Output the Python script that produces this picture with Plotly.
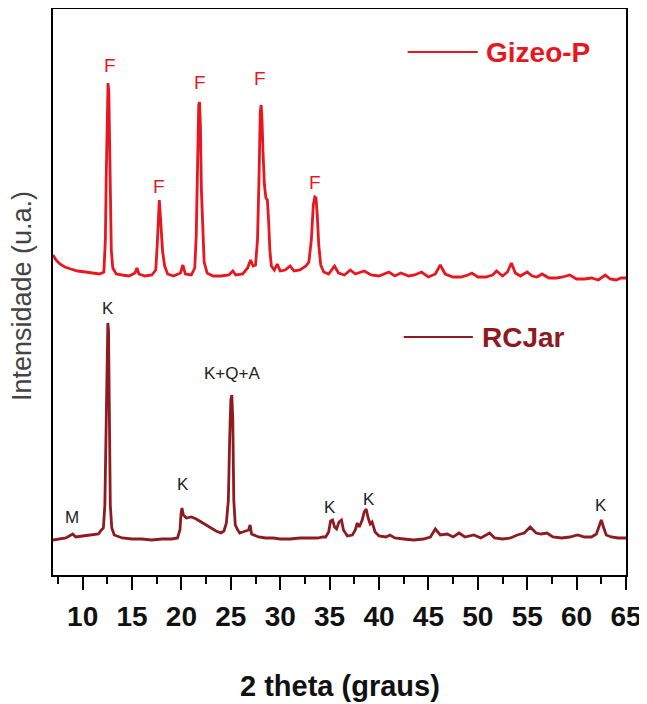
import plotly.graph_objects as go

# ---- data; intensity in arbitrary units ----
gizeo_x = [7.0, 7.3, 7.7, 8.2, 8.8, 9.5, 10.3, 11.0, 11.7, 12.15, 12.3, 12.4, 12.5, 12.57, 12.65, 12.72, 12.8, 12.9,
           13.05, 13.4, 14.0, 14.7, 15.3, 15.5, 15.7, 16.3, 17.0, 17.4, 17.55, 17.68, 17.76, 17.84, 17.95, 18.1,
           18.3, 18.6, 19.2, 19.9, 20.15, 20.4, 21.0, 21.35, 21.5, 21.63, 21.75, 21.83, 21.92, 22.02, 22.15, 22.3,
           22.6, 23.2, 24.0, 24.8, 25.2, 25.5, 26.2, 26.7, 27.0, 27.25, 27.5, 27.7, 27.85, 27.98, 28.07, 28.15,
           28.25, 28.4, 28.55, 28.7, 28.82, 28.95, 29.1, 29.4, 29.7, 30.0, 30.5, 31.0, 31.4, 32.0, 32.6, 32.9,
           33.15, 33.35, 33.5, 33.62, 33.75, 33.9, 34.1, 34.4, 34.9, 35.5, 35.9, 36.5, 37.1, 37.6, 38.5, 39.2,
           40.0, 41.0, 41.6, 42.2, 43.0, 43.6, 44.3, 45.0, 45.7, 46.2, 46.7, 47.5, 48.3, 49.0, 49.4, 50.0, 50.8,
           51.5, 51.9, 52.5, 53.0, 53.4, 53.8, 54.3, 55.0, 55.5, 56.0, 56.5, 57.2, 58.0, 58.6, 59.3, 60.0, 60.8,
           61.5, 62.2, 62.9, 63.4, 64.0, 64.5, 65.0]
gizeo_py = [255, 260, 264, 267, 269, 271, 272, 273, 274, 272, 240, 170, 100, 83, 92, 140, 200, 250,
            268, 274, 275, 276, 273, 268, 274, 276, 275, 270, 245, 210, 200, 212, 235, 252,
            266, 274, 276, 273, 265, 274, 275, 268, 235, 160, 105, 102, 125, 190, 235, 262,
            273, 276, 276, 275, 271, 275, 274, 268, 260, 266, 265, 240, 180, 112, 105, 118,
            150, 185, 198, 200, 220, 250, 266, 270, 264, 271, 270, 266, 271, 270, 266, 262,
            240, 205, 197, 198, 215, 245, 265, 272, 274, 266, 273, 275, 270, 274, 271, 275,
            276, 272, 276, 273, 276, 275, 272, 277, 274, 265, 274, 277, 277, 275, 273, 277, 277,
            275, 271, 276, 272, 263, 273, 276, 272, 276, 277, 274, 278, 278, 277, 275, 279, 279,
            278, 280, 275, 279, 280, 278, 278]
gizeo_y = [575 - v for v in gizeo_py]

rcjar_x = [7.0, 7.5, 8.3, 9.0, 9.3, 10.0, 11.0, 11.6, 11.9, 12.1, 12.25, 12.35, 12.45, 12.55, 12.62, 12.7, 12.8,
           12.95, 13.2, 14.0, 15.0, 16.0, 17.0, 18.0, 19.0, 19.6, 19.85, 19.95, 20.05, 20.2, 20.5, 21.0, 21.5,
           22.0, 22.5, 23.0, 23.5, 24.0, 24.3, 24.55, 24.75, 24.88, 25.0, 25.1, 25.2, 25.3, 25.45, 25.7, 25.9,
           26.2, 26.8, 26.95, 27.1, 27.8, 28.5, 29.3, 30.0, 31.0, 32.0, 33.0, 33.8, 34.3, 34.6, 34.9, 35.1,
           35.3, 35.5, 35.7, 35.95, 36.2, 36.4, 36.8, 37.3, 37.6, 37.8, 38.0, 38.3, 38.5, 38.7, 38.9, 39.1,
           39.3, 39.6, 40.0, 40.7, 41.1, 41.6, 42.5, 43.5, 44.5, 45.2, 45.7, 46.2, 46.9, 47.5, 48.1, 48.7,
           49.6, 50.3, 51.2, 51.7, 52.5, 53.3, 54.0, 54.7, 55.3, 55.9, 56.4, 57.0, 57.6, 58.5, 59.3, 60.1,
           60.8, 61.5, 62.0, 62.3, 62.5, 62.75, 63.0, 63.5, 64.2, 65.0]
rcjar_py = [540, 539, 538, 534, 537, 536, 535, 534, 530, 528, 505, 450, 360, 323, 330, 430, 505,
            528, 535, 538, 539, 539, 540, 539, 539, 538, 530, 515, 508, 515, 518, 517, 519,
            522, 525, 528, 531, 533, 531, 523, 500, 440, 400, 395, 420, 500, 525, 530, 533,
            532, 530, 525, 534, 537, 538, 538, 539, 539, 538, 538, 538, 537, 537, 532, 521,
            520, 527, 529, 522, 520, 530, 536, 535, 530, 523, 527, 520, 512, 509, 518, 524,
            522, 532, 536, 537, 535, 538, 539, 540, 539, 537, 529, 535, 534, 537, 533, 537,
            535, 538, 533, 538, 539, 538, 535, 533, 527, 533, 534, 533, 537, 538, 537, 535,
            537, 537, 534, 525, 520, 528, 535, 537, 538, 538]
rcjar_y = [575 - v for v in rcjar_py]

gizeo_labels = ["F", "F", "F", "F", "F"]
gizeo_label_x = [12.8, 17.74, 21.9, 27.97, 33.55]
gizeo_label_y = [510, 389, 493, 497, 393]

rcjar_labels = ["M", "K", "K", "K+Q+A", "K", "K", "K"]
rcjar_label_x = [8.93, 12.57, 20.17, 25.14, 35.06, 39.0, 62.42]
rcjar_label_y = [58, 267, 91, 202, 68, 76, 70]

x_ticks = [10, 15, 20, 25, 30, 35, 40, 45, 50, 55, 60, 65]

RED = "#e8161e"
DARK = "#8e1b1f"
SANS = "Liberation Sans, Arial, sans-serif"

fig = go.Figure()
fig.add_trace(go.Scatter(x=gizeo_x, y=gizeo_y, mode="lines", name="Gizeo-P",
                         line=dict(color=RED, width=2.8), showlegend=False))
fig.add_trace(go.Scatter(x=rcjar_x, y=rcjar_y, mode="lines", name="RCJar",
                         line=dict(color=DARK, width=2.8), showlegend=False))

for t, x, y in zip(gizeo_labels, gizeo_label_x, gizeo_label_y):
    fig.add_annotation(x=x, y=y, text=t, showarrow=False, xanchor="center", yanchor="middle",
                       font=dict(family=SANS, size=19, color=RED))
for t, x, y in zip(rcjar_labels, rcjar_label_x, rcjar_label_y):
    fig.add_annotation(x=x, y=y, text=t, showarrow=False, xanchor="center", yanchor="middle",
                       font=dict(family=SANS, size=17, color="#222222"))

# legend-like keys
fig.add_shape(type="line", x0=42.9, x1=50.0, y0=523, y1=523, line=dict(color=RED, width=2))
fig.add_annotation(x=50.6, y=523, text="<b>Gizeo-P</b>", showarrow=False, xanchor="left", yanchor="middle",
                   font=dict(family=SANS, size=28, color=RED))
fig.add_shape(type="line", x0=42.5, x1=49.5, y0=238, y1=238, line=dict(color=DARK, width=2))
fig.add_annotation(x=50.2, y=238, text="<b>RCJar</b>", showarrow=False, xanchor="left", yanchor="middle",
                   font=dict(family=SANS, size=28, color=DARK))

# axis titles
fig.add_annotation(xref="paper", yref="paper", x=-0.054, y=0.493, text="Intensidade (u.a.)",
                   textangle=-90, showarrow=False, xanchor="center", yanchor="middle",
                   font=dict(family=SANS, size=27, color="#444444"))
fig.add_annotation(xref="paper", yref="paper", x=0.5, y=-0.196, text="<b>2 theta (graus)</b>",
                   showarrow=False, xanchor="center", yanchor="middle",
                   font=dict(family=SANS, size=29, color="#111111"))

fig.update_xaxes(range=[7, 65], tickvals=x_ticks, ticktext=[f"<b>{v}</b>" for v in x_ticks],
                 ticks="outside", ticklen=13, tickwidth=2, tickcolor="black",
                 minor=dict(dtick=2.5, tick0=0, ticks="outside", ticklen=7, tickwidth=2, tickcolor="black"),
                 showline=True, linewidth=2, linecolor="black", mirror=True,
                 showgrid=False, zeroline=False, automargin=False,
                 tickfont=dict(family=SANS, size=28, color="#111111"), ticklabelstandoff=2)
fig.update_yaxes(range=[0, 566], showticklabels=False, ticks="",
                 showline=True, linewidth=2, linecolor="black", mirror=True,
                 showgrid=False, zeroline=False, automargin=False)

# the page body adds an 8 px offset, so the figure is sized to fit the 647x704 window
fig.update_layout(width=639, height=696, margin=dict(l=45, r=21, t=1, b=129),
                  plot_bgcolor="white", paper_bgcolor="white")

fig.write_html("out.html")
